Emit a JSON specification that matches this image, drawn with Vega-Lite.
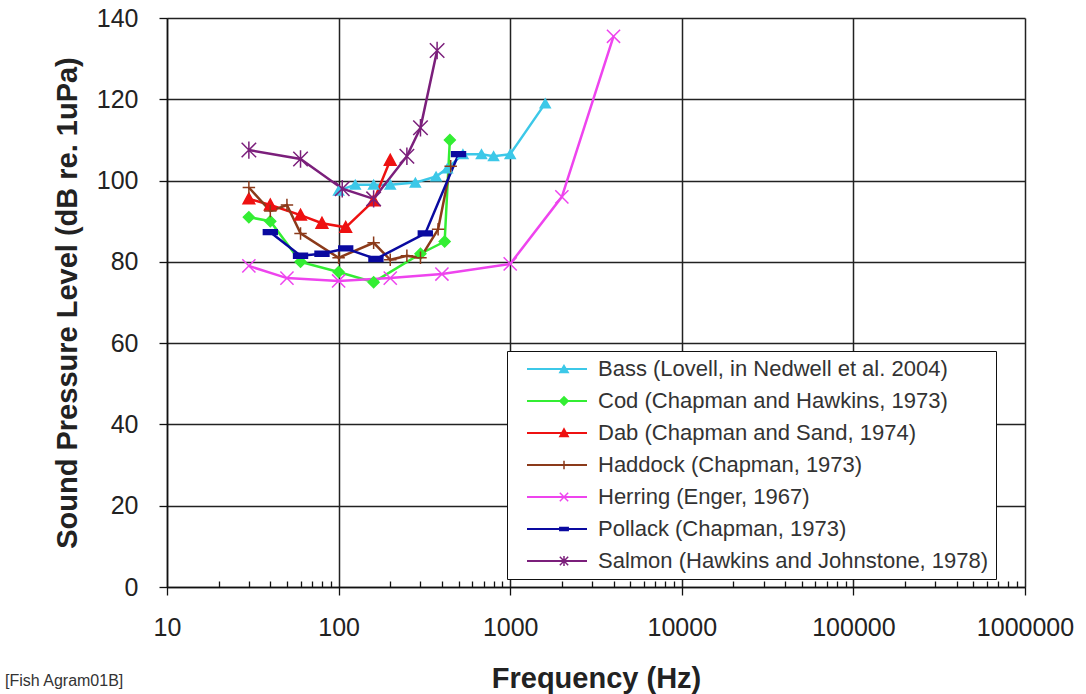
{
  "$schema": "https://vega.github.io/schema/vega-lite/v6.json",
  "width": 858,
  "height": 569,
  "autosize": {"type": "none"},
  "padding": {"left": 167, "top": 18, "right": 61, "bottom": 107},
  "background": "white",
  "title": {"text": "[Fish Agram01B]", "orient": "bottom", "anchor": "start", "frame": "group", "dx": -162, "dy": -20, "offset": 0, "fontSize": 16, "font": "Liberation Sans", "fontWeight": "normal", "color": "#333"},
  "config": {"view": {"stroke": null}},
  "data": {"values": [
    {"series": "Bass (Lovell, in Nedwell et al. 2004)", "freq": 100, "spl": 97.5},
    {"series": "Bass (Lovell, in Nedwell et al. 2004)", "freq": 125, "spl": 99},
    {"series": "Bass (Lovell, in Nedwell et al. 2004)", "freq": 160, "spl": 99},
    {"series": "Bass (Lovell, in Nedwell et al. 2004)", "freq": 200, "spl": 99},
    {"series": "Bass (Lovell, in Nedwell et al. 2004)", "freq": 280, "spl": 99.5},
    {"series": "Bass (Lovell, in Nedwell et al. 2004)", "freq": 370, "spl": 101},
    {"series": "Bass (Lovell, in Nedwell et al. 2004)", "freq": 430, "spl": 103},
    {"series": "Bass (Lovell, in Nedwell et al. 2004)", "freq": 530, "spl": 106.5},
    {"series": "Bass (Lovell, in Nedwell et al. 2004)", "freq": 680, "spl": 106.5},
    {"series": "Bass (Lovell, in Nedwell et al. 2004)", "freq": 800, "spl": 106},
    {"series": "Bass (Lovell, in Nedwell et al. 2004)", "freq": 1000, "spl": 106.5},
    {"series": "Bass (Lovell, in Nedwell et al. 2004)", "freq": 1600, "spl": 119},
    {"series": "Cod (Chapman and Hawkins, 1973)", "freq": 30, "spl": 91},
    {"series": "Cod (Chapman and Hawkins, 1973)", "freq": 40, "spl": 90},
    {"series": "Cod (Chapman and Hawkins, 1973)", "freq": 60, "spl": 80},
    {"series": "Cod (Chapman and Hawkins, 1973)", "freq": 100, "spl": 77.5},
    {"series": "Cod (Chapman and Hawkins, 1973)", "freq": 160, "spl": 75},
    {"series": "Cod (Chapman and Hawkins, 1973)", "freq": 300, "spl": 82},
    {"series": "Cod (Chapman and Hawkins, 1973)", "freq": 415, "spl": 85},
    {"series": "Cod (Chapman and Hawkins, 1973)", "freq": 445, "spl": 110},
    {"series": "Dab (Chapman and Sand, 1974)", "freq": 30, "spl": 95.5},
    {"series": "Dab (Chapman and Sand, 1974)", "freq": 40, "spl": 94},
    {"series": "Dab (Chapman and Sand, 1974)", "freq": 60, "spl": 91.5},
    {"series": "Dab (Chapman and Sand, 1974)", "freq": 80, "spl": 89.5},
    {"series": "Dab (Chapman and Sand, 1974)", "freq": 110, "spl": 88.5},
    {"series": "Dab (Chapman and Sand, 1974)", "freq": 160, "spl": 95},
    {"series": "Dab (Chapman and Sand, 1974)", "freq": 200, "spl": 105},
    {"series": "Haddock (Chapman, 1973)", "freq": 30, "spl": 98.3},
    {"series": "Haddock (Chapman, 1973)", "freq": 40, "spl": 92.5},
    {"series": "Haddock (Chapman, 1973)", "freq": 50, "spl": 94},
    {"series": "Haddock (Chapman, 1973)", "freq": 60, "spl": 87},
    {"series": "Haddock (Chapman, 1973)", "freq": 100, "spl": 81},
    {"series": "Haddock (Chapman, 1973)", "freq": 160, "spl": 84.7},
    {"series": "Haddock (Chapman, 1973)", "freq": 200, "spl": 80.5},
    {"series": "Haddock (Chapman, 1973)", "freq": 250, "spl": 81.5},
    {"series": "Haddock (Chapman, 1973)", "freq": 300, "spl": 81},
    {"series": "Haddock (Chapman, 1973)", "freq": 380, "spl": 88},
    {"series": "Haddock (Chapman, 1973)", "freq": 450, "spl": 103.5},
    {"series": "Herring (Enger, 1967)", "freq": 30, "spl": 79},
    {"series": "Herring (Enger, 1967)", "freq": 50, "spl": 76},
    {"series": "Herring (Enger, 1967)", "freq": 100, "spl": 75.3},
    {"series": "Herring (Enger, 1967)", "freq": 200, "spl": 76},
    {"series": "Herring (Enger, 1967)", "freq": 400, "spl": 77},
    {"series": "Herring (Enger, 1967)", "freq": 1000, "spl": 79.5},
    {"series": "Herring (Enger, 1967)", "freq": 2000, "spl": 96},
    {"series": "Herring (Enger, 1967)", "freq": 4000, "spl": 135.5},
    {"series": "Pollack (Chapman, 1973)", "freq": 40, "spl": 87.3},
    {"series": "Pollack (Chapman, 1973)", "freq": 60, "spl": 81.5},
    {"series": "Pollack (Chapman, 1973)", "freq": 80, "spl": 82},
    {"series": "Pollack (Chapman, 1973)", "freq": 110, "spl": 83.3},
    {"series": "Pollack (Chapman, 1973)", "freq": 165, "spl": 80.7},
    {"series": "Pollack (Chapman, 1973)", "freq": 320, "spl": 87},
    {"series": "Pollack (Chapman, 1973)", "freq": 500, "spl": 106.5},
    {"series": "Salmon (Hawkins and Johnstone, 1978)", "freq": 30, "spl": 107.5},
    {"series": "Salmon (Hawkins and Johnstone, 1978)", "freq": 60, "spl": 105.3},
    {"series": "Salmon (Hawkins and Johnstone, 1978)", "freq": 105, "spl": 98},
    {"series": "Salmon (Hawkins and Johnstone, 1978)", "freq": 160, "spl": 95.5},
    {"series": "Salmon (Hawkins and Johnstone, 1978)", "freq": 250, "spl": 106},
    {"series": "Salmon (Hawkins and Johnstone, 1978)", "freq": 300, "spl": 113},
    {"series": "Salmon (Hawkins and Johnstone, 1978)", "freq": 375, "spl": 132}
  ]},
  "encoding": {
    "x": {
      "field": "freq", "type": "quantitative",
      "scale": {"type": "log", "domain": [10, 1000000], "nice": false},
      "axis": {
        "title": "Frequency (Hz)",
        "values": [10,20,30,40,50,60,70,80,90,100,200,300,400,500,600,700,800,900,1000,2000,3000,4000,5000,6000,7000,8000,9000,10000,20000,30000,40000,50000,60000,70000,80000,90000,100000,200000,300000,400000,500000,600000,700000,800000,900000,1000000],
        "labelExpr": "indexof([10,100,1000,10000,100000,1000000], datum.value) >= 0 ? format(datum.value, 'd') : ''",
        "labelFont": "Liberation Sans", "labelFontSize": 25, "labelColor": "#222",
        "labelPadding": 20, "labelFlush": false, "labelOverlap": false,
        "tickSize": {"condition": {"test": "indexof([10,100,1000,10000,100000,1000000], datum.value) >= 0", "value": 8}, "value": -6},
        "tickColor": "#111", "tickWidth": 1.3,
        "grid": true,
        "gridColor": "#222", "gridWidth": 1.5,
        "gridOpacity": {"condition": {"test": "indexof([10,100,1000,10000,100000,1000000], datum.value) >= 0", "value": 1}, "value": 0},
        "domainColor": "#111", "domainWidth": 1.5,
        "titleFont": "Liberation Sans", "titleFontSize": 29, "titleFontWeight": "bold", "titleColor": "#222", "titlePadding": 24
      }
    },
    "y": {
      "field": "spl", "type": "quantitative",
      "scale": {"domain": [0, 140], "nice": false},
      "axis": {
        "title": "Sound Pressure Level (dB re. 1uPa)",
        "values": [0,20,40,60,80,100,120,140],
        "labelFont": "Liberation Sans", "labelFontSize": 25, "labelColor": "#222",
        "labelPadding": 21,
        "tickSize": 8, "tickColor": "#111", "tickWidth": 1.3,
        "grid": true, "gridColor": "#222", "gridWidth": 1.5,
        "domainColor": "#111", "domainWidth": 1.5,
        "titleFont": "Liberation Sans", "titleFontSize": 29, "titleFontWeight": "bold", "titleColor": "#222", "titlePadding": 14
      }
    }
  },
  "layer": [
    {
      "mark": {"type": "line", "strokeWidth": 2.5},
      "encoding": {
        "color": {
          "field": "series", "type": "nominal",
          "scale": {"range": ["#3CC8E8", "#33EE33", "#EE1111", "#8B3A1A", "#EE44EE", "#0A0AA0", "#7B1F7B"]},
          "legend": {
            "orient": "none", "legendX": 340, "legendY": 333, "title": null,
            "symbolType": "M-3,0H3", "symbolSize": 400, "symbolStrokeWidth": 2,
            "symbolOffset": 32, "labelOffset": 30,
            "labelExpr": "datum.label + '\u00a0\u00a0\u00a0\u00a0\u00a0\u00a0'",
            "labelFont": "Liberation Sans", "labelFontSize": 22, "labelColor": "#333", "labelLimit": 1000,
            "rowPadding": 10, "padding": 7,
            "strokeColor": "#111", "fillColor": "white"
          }
        }
      }
    },
    {
      "mark": {"type": "point", "strokeWidth": 1.5, "opacity": 1, "fillOpacity": 1},
      "encoding": {
        "size": {
          "field": "series", "type": "nominal", "legend": null,
          "scale": {"domain": ["Salmon (Hawkins and Johnstone, 1978)", "Pollack (Chapman, 1973)", "Herring (Enger, 1967)", "Haddock (Chapman, 1973)", "Dab (Chapman and Sand, 1974)", "Cod (Chapman and Hawkins, 1973)", "Bass (Lovell, in Nedwell et al. 2004)"],
                    "range": [210, 100, 170, 190, 190, 120, 100]}
        },
        "fill": {
          "field": "series", "type": "nominal",
          "scale": {"domain": ["Bass (Lovell, in Nedwell et al. 2004)", "Cod (Chapman and Hawkins, 1973)", "Dab (Chapman and Sand, 1974)", "Haddock (Chapman, 1973)", "Herring (Enger, 1967)", "Pollack (Chapman, 1973)", "Salmon (Hawkins and Johnstone, 1978)"],
                    "range": ["#3CC8E8", "#33EE33", "#EE1111", "#8B3A1A", "#EE44EE", "#0A0AA0", "#7B1F7B"]},
          "legend": {
            "orient": "none", "legendX": 340, "legendY": 333, "title": null,
            "symbolSize": 70, "symbolStrokeWidth": 1.5, "symbolOpacity": 1, "symbolOffset": 39, "labelOffset": 35,
            "labelExpr": "''",
            "labelFont": "Liberation Sans", "labelFontSize": 22, "labelOpacity": 0, "labelLimit": 1000,
            "rowPadding": 10, "padding": 7,
            "strokeColor": null, "fillColor": null
          }
        },
        "stroke": {
          "field": "series", "type": "nominal",
          "scale": {"domain": ["Bass (Lovell, in Nedwell et al. 2004)", "Cod (Chapman and Hawkins, 1973)", "Dab (Chapman and Sand, 1974)", "Haddock (Chapman, 1973)", "Herring (Enger, 1967)", "Pollack (Chapman, 1973)", "Salmon (Hawkins and Johnstone, 1978)"],
                    "range": ["#3CC8E8", "#33EE33", "#EE1111", "#8B3A1A", "#EE44EE", "#0A0AA0", "#7B1F7B"]},
          "legend": {
            "orient": "none", "legendX": 340, "legendY": 333, "title": null,
            "symbolSize": 70, "symbolStrokeWidth": 1.5, "symbolOpacity": 1, "symbolOffset": 39, "labelOffset": 35,
            "labelExpr": "''",
            "labelFont": "Liberation Sans", "labelFontSize": 22, "labelOpacity": 0, "labelLimit": 1000,
            "rowPadding": 10, "padding": 7,
            "strokeColor": null, "fillColor": null
          }
        },
        "shape": {
          "field": "series", "type": "nominal",
          "scale": {"domain": ["Bass (Lovell, in Nedwell et al. 2004)", "Cod (Chapman and Hawkins, 1973)", "Dab (Chapman and Sand, 1974)", "Haddock (Chapman, 1973)", "Herring (Enger, 1967)", "Pollack (Chapman, 1973)", "Salmon (Hawkins and Johnstone, 1978)"],
                    "range": ["triangle-up", "diamond", "M-1,0.85L0,-1L1,0.85Z", "M-1,0H1M0,-1V1", "M-1,-1L1,1M-1,1L1,-1", "M-1,-0.35H1V0.35H-1Z", "M-1,-1L1,1M-1,1L1,-1M0,-1.2V1.2"]},
          "legend": {
            "orient": "none", "legendX": 340, "legendY": 333, "title": null,
            "symbolSize": 70, "symbolStrokeWidth": 1.5, "symbolOpacity": 1, "symbolOffset": 39, "labelOffset": 35,
            "labelExpr": "''",
            "labelFont": "Liberation Sans", "labelFontSize": 22, "labelOpacity": 0, "labelLimit": 1000,
            "rowPadding": 10, "padding": 7,
            "strokeColor": null, "fillColor": null
          }
        }
      }
    }
  ]
}
